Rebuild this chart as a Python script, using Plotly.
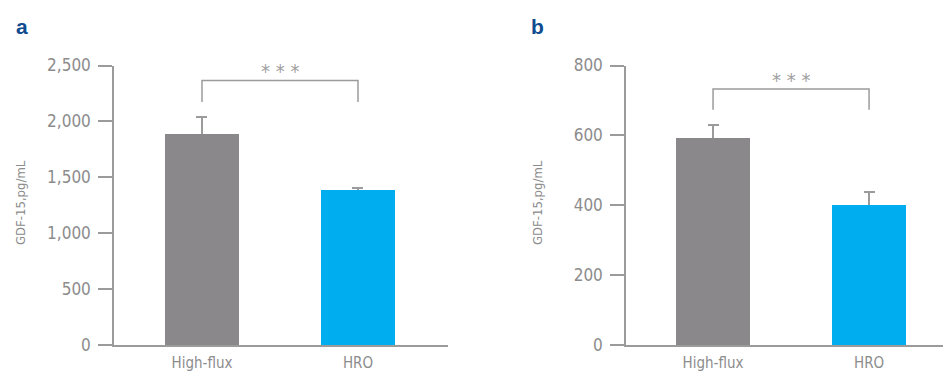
import plotly.graph_objects as go

categories = ["High-flux", "HRO"]
a_values = [1890, 1390]
a_errors = [150, 15]
b_values = [593, 403]
b_errors = [37, 35]
a_ticks = [0, 500, 1000, 1500, 2000, 2500]
a_ticklabels = ["0", "500", "1,000", "1,500", "2,000", "2,500"]
b_ticks = [0, 200, 400, 600, 800]
b_ticklabels = ["0", "200", "400", "600", "800"]
# significance bracket levels (data units): top, leg bottom
a_bracket = [2366, 2174]
b_bracket = [733, 673]
sig_label = "* * *"

OFF = 8  # page body margin
W, H = 951 - OFF, 371 - OFF
GRAY = "#8a888b"
BLUE = "#00aeef"
AX = "#9b9b9b"
TXT = "#8c8c8c"
FONT = "DejaVu Sans Condensed, Roboto, sans-serif"

def px(x):
    return (x - OFF) / W

def py(y):
    return 1 - (y - OFF) / H

fig = go.Figure()
for vals, errs, xa, ya in [(a_values, a_errors, "x", "y"), (b_values, b_errors, "x2", "y2")]:
    # error bars (lower half hidden behind the bars drawn next)
    fig.add_trace(go.Bar(
        x=categories, y=vals, xaxis=xa, yaxis=ya,
        marker=dict(color="rgba(0,0,0,0)", line=dict(width=0)),
        width=0.474,
        error_y=dict(type="data", array=errs, color=AX, thickness=2, width=5.5),
        showlegend=False, hoverinfo="skip",
    ))
    fig.add_trace(go.Bar(
        x=categories, y=vals, xaxis=xa, yaxis=ya,
        marker=dict(color=[GRAY, BLUE], line=dict(width=0)),
        width=0.474,
        showlegend=False, hoverinfo="skip",
    ))

common_x = dict(type="category", showline=True, linecolor=AX, linewidth=1.5,
                ticks="", showgrid=False, zeroline=False, automargin=False,
                tickfont=dict(family=FONT, size=15, color=TXT), ticklabelstandoff=3,
                fixedrange=True)
common_y = dict(showline=True, linecolor=AX, linewidth=1.5, ticks="outside",
                ticklen=14, tickcolor=AX, tickwidth=1.5, showgrid=False, zeroline=False,
                automargin=False,
                tickfont=dict(family=FONT, size=17, color=TXT), ticklabelstandoff=4,
                fixedrange=True)

fig.update_layout(
    width=W, height=H, margin=dict(l=0, r=0, t=0, b=0, pad=0), autosize=False,
    plot_bgcolor="white", paper_bgcolor="white",
    barmode="overlay", bargap=0,
    xaxis=dict(common_x, domain=[px(114), px(448)], range=[-0.564, 1.577], anchor="y"),
    yaxis=dict(common_y, domain=[py(345), py(65.5)], range=[0, 2500],
               tickvals=a_ticks, ticktext=a_ticklabels, anchor="x"),
    xaxis2=dict(common_x, domain=[px(626), px(948)], range=[-0.558, 1.506], anchor="y2"),
    yaxis2=dict(common_y, domain=[py(345), py(65.5)], range=[0, 800],
                tickvals=b_ticks, ticktext=b_ticklabels, anchor="x2"),
)

shapes = []
annotations = []
for br, xr, yr in [(a_bracket, "x", "y"), (b_bracket, "x2", "y2")]:
    top, bot = br
    pts = [(0, bot), (0, top), (1, top), (1, bot)]
    path = "M " + " L ".join(f"{i},{v}" for i, v in pts)
    shapes.append(dict(type="path", xref=xr, yref=yr,
                       path=path, line=dict(color=AX, width=1.5)))
    annotations.append(dict(x=0.5, y=top, xref=xr, yref=yr, text=sig_label,
                            showarrow=False, yanchor="bottom", yshift=-5,
                            font=dict(family=FONT, size=20, color="#a0a0a0")))

for xpos in [20, 537]:
    annotations.append(dict(x=px(xpos), y=py(203), xref="paper", yref="paper",
                            text="GDF-15,pg/mL", textangle=-90, showarrow=False,
                            xanchor="center", yanchor="middle",
                            font=dict(family=FONT, size=13, color=TXT)))

for letter, xpos in [("a", 14), ("b", 529)]:
    annotations.append(dict(x=px(xpos), y=py(27), xref="paper", yref="paper",
                            text=f"<b>{letter}</b>", showarrow=False,
                            xanchor="left", yanchor="middle",
                            font=dict(family="Liberation Sans", size=21, color="#0f4c8f")))

fig.update_layout(shapes=shapes, annotations=annotations)
fig.write_html("out.html")
